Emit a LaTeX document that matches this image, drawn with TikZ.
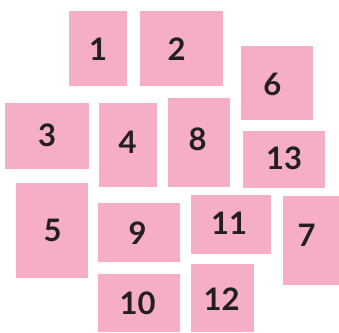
\documentclass[tikz,border=0pt]{standalone}
\usepackage{fontspec}
\setmainfont{Lato}
\definecolor{boxpink}{RGB}{245,174,196}
\definecolor{txt}{RGB}{35,31,32}
\tikzset{
  card/.style={fill=boxpink, draw=none, inner sep=0pt, anchor=north west},
  num/.style={text=txt, font=\fontsize{31}{31}\selectfont\bfseries, inner sep=0pt}
}
\begin{document}
\begin{tikzpicture}[x=1pt,y=1pt]
\useasboundingbox (0,0) rectangle (339,-332);
\node[card, minimum width=58pt, minimum height=75pt] (b1) at (69,-10.7) {};
\node[card, minimum width=83pt, minimum height=75pt] (b2) at (140,-10.7) {};
\node[card, minimum width=72pt, minimum height=74pt] (b6) at (241,-45.3) {};
\node[card, minimum width=84pt, minimum height=65.8pt] (b3) at (5,-102.7) {};
\node[card, minimum width=58pt, minimum height=83.6pt] (b4) at (99,-102.7) {};
\node[card, minimum width=62pt, minimum height=88.6pt] (b8) at (168,-97.7) {};
\node[card, minimum width=82pt, minimum height=56.6pt] (b13) at (243,-130.7) {};
\node[card, minimum width=72pt, minimum height=95pt] (b5) at (16,-182.7) {};
\node[card, minimum width=82pt, minimum height=58.6pt] (b9) at (98,-202.7) {};
\node[card, minimum width=79.7pt, minimum height=58.6pt] (b11) at (191,-194.7) {};
\node[card, minimum width=56pt, minimum height=89pt] (b7) at (283,-195.7) {};
\node[card, minimum width=82pt, minimum height=58pt] (b10) at (98,-274) {};
\node[card, minimum width=63pt, minimum height=68.3pt] (b12) at (191,-263.7) {};
\node[num] (t1) at (98,-49) {1};
\node[num] (t2) at (176.5,-49) {2};
\node[num] (t6) at (272.3,-84) {6};
\node[num] (t3) at (47,-135) {3};
\node[num] (t4) at (127.7,-142.7) {4};
\node[num] (t8) at (197.7,-139.3) {8};
\node[num] (t13) at (284,-158) {13};
\node[num] (t5) at (52.7,-230.3) {5};
\node[num] (t9) at (137.7,-233) {9};
\node[num] (t11) at (229,-223) {11};
\node[num] (t7) at (306.7,-235.3) {7};
\node[num] (t10) at (137.7,-303.7) {10};
\node[num] (t12) at (221.7,-298.7) {12};
\end{tikzpicture}
\end{document}
